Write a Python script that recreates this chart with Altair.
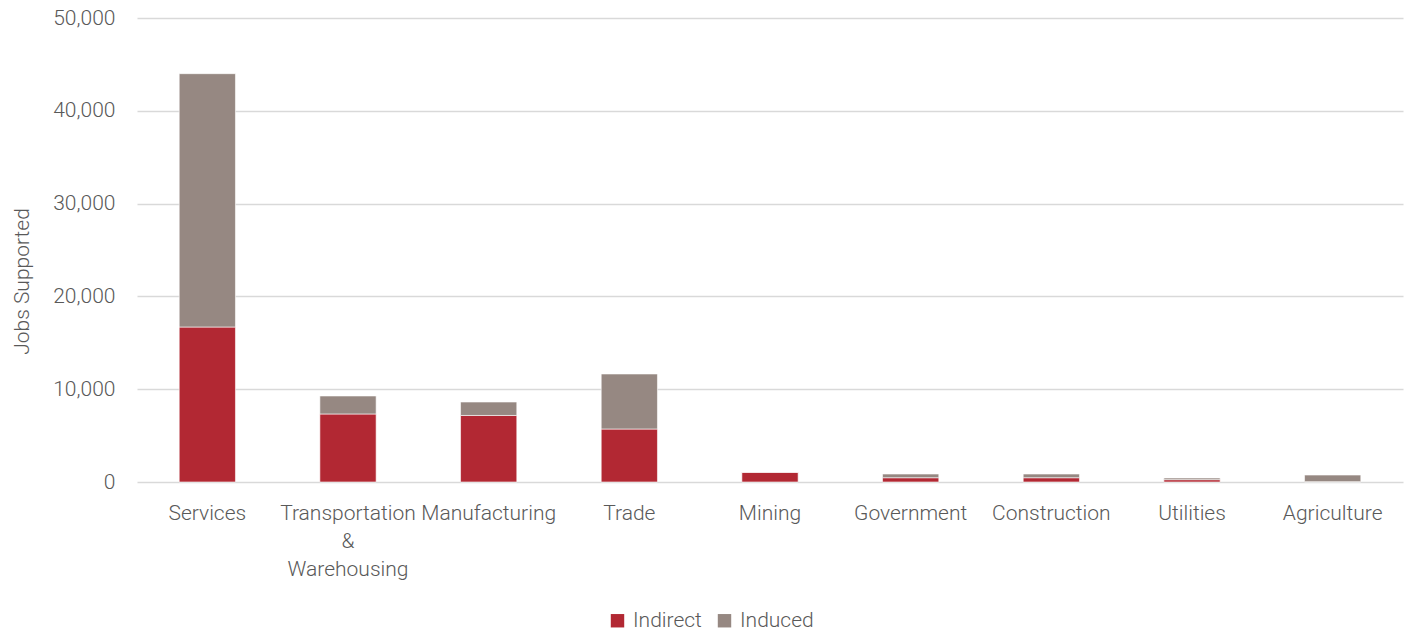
import altair as alt
import pandas as pd

categories = ["Services", "Transportation & Warehousing", "Manufacturing", "Trade",
              "Mining", "Government", "Construction", "Utilities", "Agriculture"]
indirect = [16700, 7330, 7170, 5710, 1050, 460, 460, 250, 40]
induced = [27300, 1940, 1450, 5930, 0, 400, 400, 180, 710]
series = ["Indirect", "Induced"]
y_ticks = [0, 10000, 20000, 30000, 40000, 50000]

rows = []
for c, a, b in zip(categories, indirect, induced):
    rows.append({"Sector": c, "Type": "Indirect", "Jobs": a, "ord": 0})
    rows.append({"Sector": c, "Type": "Induced", "Jobs": b, "ord": 1})
df = pd.DataFrame(rows)

FONT = "Roboto"
TXT = "#595959"
FS = 21

chart = alt.Chart(df).mark_bar(stroke="white", strokeWidth=0.6).encode(
    x=alt.X("Sector:N", sort=categories, title=None,
            scale=alt.Scale(paddingInner=0.6, paddingOuter=0.3),
            axis=alt.Axis(labelAngle=0, labelFont=FONT, labelFontSize=FS, labelFontWeight=300,
                          labelColor=TXT, labelPadding=20, ticks=False, domain=False,
                          grid=False, labelLimit=300,
                          labelExpr="datum.label == 'Transportation & Warehousing' ? ['Transportation', '&', 'Warehousing'] : datum.label",
                          labelLineHeight=28)),
    y=alt.Y("Jobs:Q", stack="zero", title="Jobs Supported",
            scale=alt.Scale(domain=[0, 50000], nice=False),
            axis=alt.Axis(values=y_ticks, labelExpr="format(datum.value, ',')",
                          labelFont=FONT, labelFontSize=FS,
                          labelFontWeight=300, labelColor=TXT, labelPadding=22,
                          ticks=False, domain=False, gridColor="#D9D9D9", gridWidth=1.5,
                          titleFont=FONT, titleFontSize=FS, titleFontWeight=300,
                          titleColor=TXT, titlePadding=20, titleY=263)),
    color=alt.Color("Type:N", scale=alt.Scale(domain=series, range=["#B22833", "#968882"]),
                    legend=alt.Legend(title=None, orient="none", direction="horizontal",
                                      legendX=470, legendY=592, symbolType="square",
                                      symbolSize=180, symbolStrokeWidth=0,
                                      labelFont=FONT, labelFontSize=FS, labelFontWeight=300,
                                      labelColor=TXT, columnPadding=12, labelOffset=5)),
    order=alt.Order("ord:Q", sort="ascending"),
).properties(
    width=1266, height=464,
    autosize=alt.AutoSizeParams(type="none"),
    padding={"left": 137, "top": 18, "right": 5, "bottom": 151},
).configure(background="white").configure_view(strokeWidth=0, stroke=None)

chart.save("out.html", embed_options={"renderer": "svg", "actions": False})
